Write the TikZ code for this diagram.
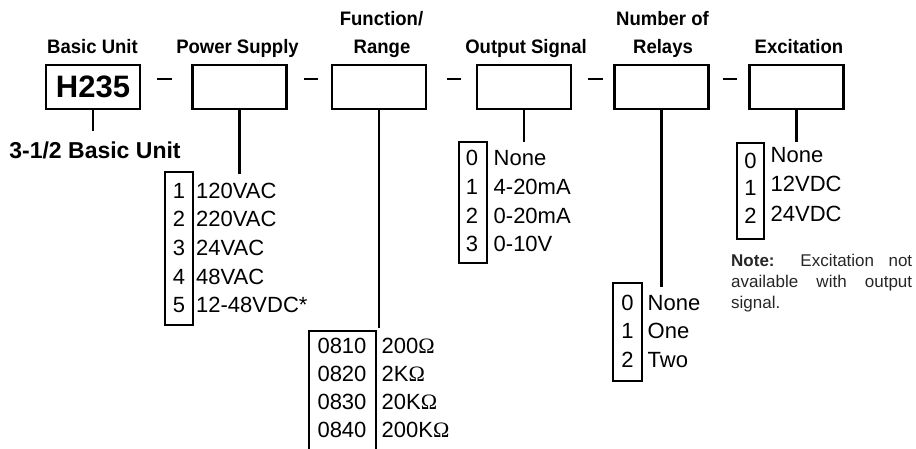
\documentclass[tikz,border=0pt]{standalone}
\usepackage{fontspec}
\setmainfont{Liberation Sans}
\newfontfamily\hdrfont{Liberation Sans}[FakeStretch=0.95]
\newfontfamily\omfont{Liberation Serif}
\newcommand{\Ohm}{{\omfont Ω}}
\tikzset{
  hdr/.style={font=\hdrfont\bfseries\fontsize{19.5}{24}\selectfont, anchor=base, inner sep=0pt},
  codebox/.style={draw, line width=2.2pt, minimum width=94pt, minimum height=44pt, inner sep=0pt},
  listbox/.style={draw, line width=2pt, inner sep=0pt},
  item/.style={font=\fontsize{22}{26}\selectfont, inner sep=0pt, anchor=base west},
  digit/.style={font=\fontsize{22}{26}\selectfont, inner sep=0pt, anchor=base},
  conn/.style={line width=2.2pt},
  dashline/.style={line width=2.6pt},
  notefont/.style={font=\fontsize{17}{21.5}\selectfont, inner sep=0pt, anchor=base west, text=black!85}
}
\begin{document}
\begin{tikzpicture}[x=1pt,y=-1pt]
\useasboundingbox (0,0) rectangle (916,448);

% headers
\node[hdr] (h1) at (92.5,53) {Basic Unit};
\node[hdr] (h2) at (237.5,53) {Power Supply};
\node[hdr] (h3a) at (381.5,25) {Function/};
\node[hdr] (h3b) at (382,53) {Range};
\node[hdr] (h4) at (526,53) {Output Signal};
\node[hdr] (h5a) at (662.5,25) {Number of};
\node[hdr] (h5b) at (663,53) {Relays};
\node[hdr] (h6) at (799,53) {Excitation};

% code boxes
\node[codebox, font=\bfseries\fontsize{31}{36}\selectfont] (b1) at (93,87) {H235};
\node[codebox] (b2) at (239.5,87) {};
\node[codebox] (b3) at (379,87) {};
\node[codebox] (b4) at (524,87) {};
\node[codebox] (b5) at (661.5,87) {};
\node[codebox] (b6) at (796.5,87) {};

% dashes
\coordinate (d1a) at (157,79); \coordinate (d1b) at (172,79);
\coordinate (d2a) at (304,79); \coordinate (d2b) at (318,79);
\coordinate (d3a) at (447,79); \coordinate (d3b) at (461,79);
\coordinate (d4a) at (588,79); \coordinate (d4b) at (603,79);
\coordinate (d5a) at (723,79); \coordinate (d5b) at (737,79);
\foreach \i in {1,...,5} {\draw[dashline] (d\i a) -- (d\i b);}

% connector ends
\coordinate (e1) at (93,131);
\coordinate (e2) at (239.5,174);
\coordinate (e3) at (379,328);
\coordinate (e4) at (524,142);
\coordinate (e5) at (661.5,287);
\coordinate (e6) at (796.5,142);
\foreach \i in {1,...,6} {\draw[conn] (b\i.south) -- (e\i);}

% basic unit label
\node[font=\bfseries\fontsize{23}{27}\selectfont, inner sep=0pt, anchor=base] (lab1) at (95,158) {3-1/2 Basic Unit};

% list boxes
\node[listbox, minimum width=28pt, minimum height=153pt] (L2) at (179,248.5) {};
\node[listbox, minimum width=67pt, minimum height=124pt] (L3) at (342.5,393) {};
\node[listbox, minimum width=28pt, minimum height=121pt] (L4) at (473,202.5) {};
\node[listbox, minimum width=29pt, minimum height=98pt] (L5) at (627.5,332) {};
\node[listbox, minimum width=27pt, minimum height=96pt] (L6) at (750.5,190.5) {};

% power supply
\foreach \d/\t [count=\k from 0] in {1/120VAC,2/220VAC,3/24VAC,4/48VAC,5/12-48VDC*} {
  \node[digit] (pd\k) at (179,198+28.7*\k) {\d};
  \node[item] (pt\k) at (196,198+28.7*\k) {\t};
}
% function / range
\foreach \d/\t [count=\k from 0] in {0810/200\Ohm,0820/2K\Ohm,0830/20K\Ohm,0840/200K\Ohm} {
  \node[digit] (fd\k) at (342,353+28.3*\k) {\d};
  \node[item] (ft\k) at (381.5,353+28.3*\k) {\t};
}
% output signal
\foreach \d/\t [count=\k from 0] in {0/None,1/4-20mA,2/0-20mA,3/0-10V} {
  \node[digit] (od\k) at (472,165.5+28.8*\k) {\d};
  \node[item] (ot\k) at (493.5,165.5+28.8*\k) {\t};
}
% relays
\foreach \d/\t [count=\k from 0] in {0/None,1/One,2/Two} {
  \node[digit] (rd\k) at (627.5,310+28.5*\k) {\d};
  \node[item] (rt\k) at (647.5,310+28.5*\k) {\t};
}
% excitation
\foreach \d/\t [count=\k from 0] in {0/None,1/12VDC,2/24VDC} {
  \node[digit] (xd\k) at (750.5,168+27.5*\k) {\d};
  \node[item] (xt\k) at (770.5,162+29.5*\k) {\t};
}

% note
\node[notefont] (n1) at (731,266) {\makebox[181pt][s]{\textbf{Note:} Excitation not}};
\node[notefont] (n2) at (731,287.5) {\makebox[181pt][s]{available with output}};
\node[notefont] (n3) at (731,308.5) {signal.};
\end{tikzpicture}
\end{document}
